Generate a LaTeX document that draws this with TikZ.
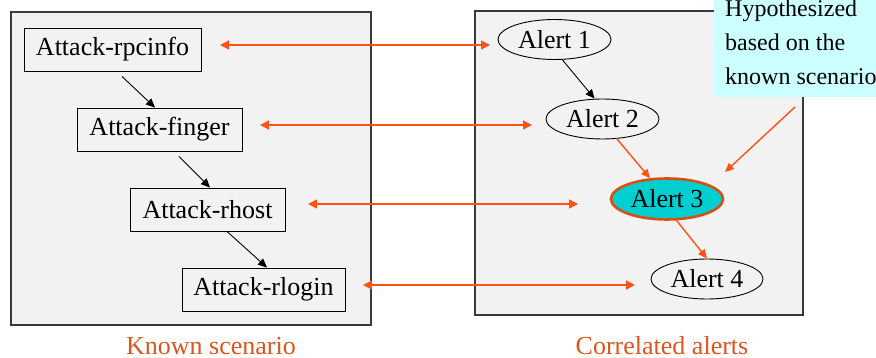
\documentclass[tikz,border=0pt]{standalone}
\usepackage{fontspec}
\setmainfont{Liberation Serif}
\usetikzlibrary{arrows.meta,shapes.geometric}
\definecolor{panelfill}{HTML}{F2F2F2}
\definecolor{panelline}{HTML}{3A3A3A}
\definecolor{linkorange}{HTML}{FF5214}
\definecolor{captionorange}{HTML}{DA561E}
\definecolor{notecyan}{HTML}{CCFFFF}
\definecolor{hotfill}{HTML}{00CED1}
\definecolor{hotline}{HTML}{D85010}
\tikzset{
  panel/.style={draw=panelline, line width=1.5pt, fill=panelfill},
  attackbox/.style={draw=black, line width=0.9pt, fill=panelfill, inner sep=0pt,
    minimum height=43pt, font=\fontsize{26}{30}\selectfont},
  alertnode/.style={ellipse, draw=black, line width=0.9pt, fill=panelfill, inner sep=0pt,
    minimum height=40pt, minimum width=113pt, font=\fontsize{26}{30}\selectfont},
  hotalert/.style={alertnode, fill=hotfill, draw=hotline, line width=2.6pt,
    minimum height=41pt, minimum width=112pt},
  flow/.style={draw=black, line width=0.9pt, -{Triangle[length=9pt,width=8pt]}},
  hotflow/.style={draw=linkorange, line width=1.4pt, -{Triangle[length=9pt,width=8pt]}},
  link/.style={draw=linkorange, line width=1.4pt,
    {Triangle[length=9pt,width=9pt]}-{Triangle[length=9pt,width=9pt]}},
  caption/.style={font=\fontsize{26}{30}\selectfont, text=captionorange, anchor=base, inner sep=0pt},
  notetext/.style={font=\fontsize{24}{28}\selectfont, anchor=base west, inner sep=0pt},
}
\begin{document}
\begin{tikzpicture}[x=1pt,y=-1pt]
\useasboundingbox (0,0) rectangle (876,358);

% the two panels
\draw[panel] (11,12) rectangle (371,325);
\draw[panel] (475,11) rectangle (803,315);

% known attack scenario
\node[attackbox, minimum width=177pt] (rpc)    at (112.5,49.5)  {Attack-rpcinfo};
\node[attackbox, minimum width=165pt] (finger) at (159.5,129.5) {Attack-finger};
\node[attackbox, minimum width=155pt] (rhost)  at (207.5,209.5) {Attack-rhost};
\node[attackbox, minimum width=163pt] (rlogin) at (263.5,289.5) {Attack-rlogin};

\draw[flow] ([xshift=9.5pt,yshift=-5pt]rpc.south)    -- ([xshift=-4.5pt]finger.north);
\draw[flow] ([xshift=19.5pt,yshift=-5pt]finger.south) -- ([xshift=2.5pt]rhost.north);
\draw[flow] ([xshift=19.5pt]rhost.south)             -- ([xshift=3.5pt]rlogin.north);

% correlated alerts
\node[alertnode] (a1) at (554.5,39.5) {Alert 1};
\node[alertnode] (a2) at (602.5,119)  {Alert 2};
\node[hotalert]  (a3) at (667,199)    {Alert 3};
\node[alertnode, minimum width=112pt] (a4) at (707,279) {Alert 4};

\draw[flow] ([xshift=8pt]a1.south) -- ([xshift=-8pt]a2.north);
\draw[hotflow] ([xshift=14pt,yshift=1pt]a2.south) -- ([xshift=-17pt,yshift=-1pt]a3.north);
\draw[hotflow] ([xshift=9pt,yshift=1pt]a3.south) -- (a4.north);

% hypothesis note
\fill[notecyan] (714,0) rectangle (876,97);
\node[notetext] (hyp1) at (725,17) {Hypothesized};
\node[notetext] (hyp2) at (725,51) {based on the};
\node[notetext] (hyp3) at (725,85) {known scenario};
\coordinate (notefoot) at (795,107);
\coordinate (notetip)  at (725,172);
\draw[hotflow] (notefoot) -- (notetip);

% correspondences between scenario steps and alerts
\coordinate (l1) at (220,45);  \coordinate (r1) at (490,45);
\coordinate (l2) at (260,125); \coordinate (r2) at (532,125);
\coordinate (l3) at (308,204); \coordinate (r3) at (578,204);
\coordinate (l4) at (363,285); \coordinate (r4) at (635,285);
\draw[link] (l1) -- (r1);
\draw[link] (l2) -- (r2);
\draw[link] (l3) -- (r3);
\draw[link] (l4) -- (r4);

% captions
\node[caption] (capleft)  at (211,354) {Known scenario};
\node[caption] (capright) at (662,354) {Correlated alerts};
\end{tikzpicture}
\end{document}
